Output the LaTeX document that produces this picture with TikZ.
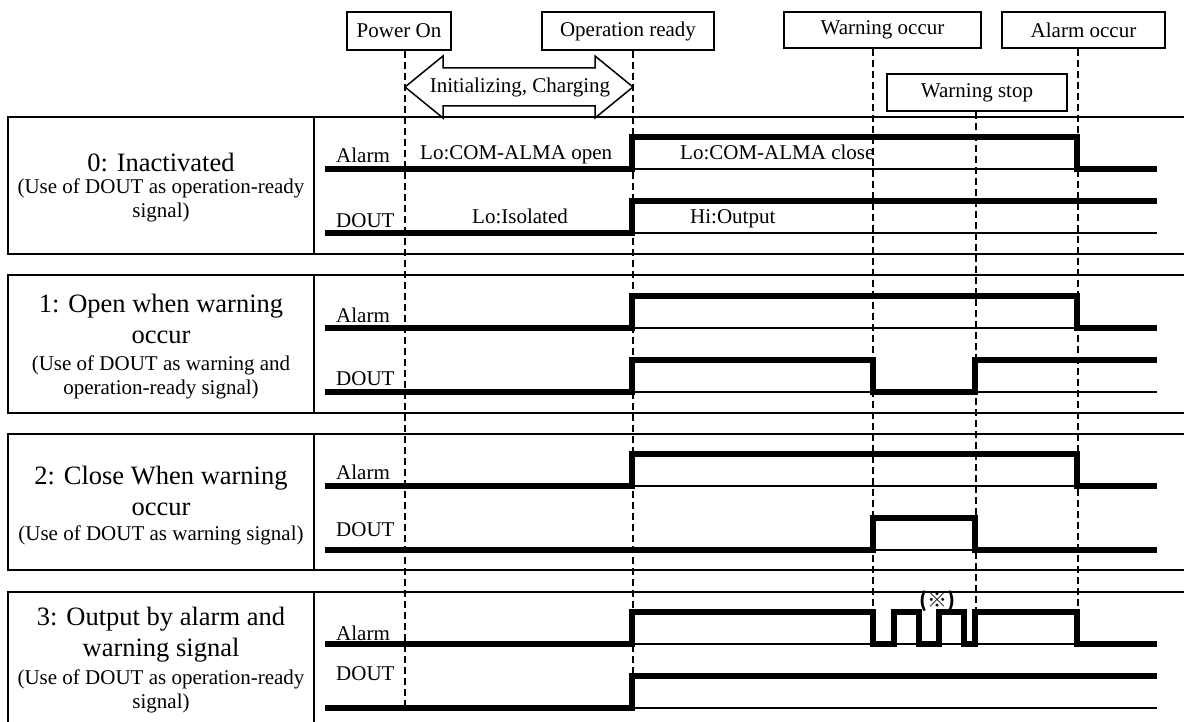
\documentclass[tikz,border=0pt]{standalone}
\usepackage{fontspec}
\setmainfont{Liberation Serif}
\newfontfamily\refmarkfont{Noto Sans CJK JP}
\newcommand\sigfont{\fontsize{21}{25}\selectfont}
\newcommand\modefont{\fontsize{26.5}{31}\selectfont}
\newcommand\remfont{\fontsize{21}{24}\selectfont}
\tikzset{
  frame/.style={line width=1.5pt},
  event/.style={line width=1.4pt, dash pattern=on 7pt off 4pt},
  evbox/.style={draw, line width=1.5pt, inner sep=0pt, font=\sigfont},
  sig/.style={line width=6pt, line join=miter},
  ref/.style={line width=1.6pt},
  lbl/.style={inner sep=0pt, anchor=base west, font=\sigfont},
  modetitle/.style={align=center, font=\modefont, inner sep=0pt},
  modenote/.style={align=center, font=\remfont, inner sep=0pt},
}
\begin{document}
\begin{tikzpicture}[x=1pt, y=-1pt]
  \path[use as bounding box, clip] (0,0) rectangle (1184,722);

  % events on top
  \node[evbox, minimum width=104pt, minimum height=38pt] (pon) at (399,31) {Power On};
  \node[evbox, minimum width=172pt, minimum height=38pt] (rdy) at (628,31) {Operation ready};
  \node[evbox, minimum width=197pt, minimum height=36pt] (warn) at (882.5,30) {Warning occur};
  \node[evbox, minimum width=163pt, minimum height=36pt] (alm) at (1083.5,30) {Alarm occur};
  \node[evbox, minimum width=180pt, minimum height=37pt] (wstop) at (977,92.5) {Warning stop};
  \coordinate (tpon) at (405,0);
  \coordinate (trdy) at (633,0);
  \coordinate (twarn) at (873,0);
  \coordinate (tstop) at (976,0);
  \coordinate (talm) at (1078,0);
  \draw[event] (pon.south -| tpon) -- (tpon |- 0,708);
  \draw[event] (rdy.south -| trdy) -- (trdy |- 0,676);
  \draw[event] (warn.south -| twarn) -- (twarn |- 0,612);
  \draw[event] (wstop.south -| tstop) -- (tstop |- 0,612);
  \draw[event] (alm.south -| talm) -- (talm |- 0,612);

  % initializing arrow
  \draw[frame, line join=miter] (405,87) -- (443,56) -- (443,68) -- (595,68) -- (595,56) -- (633,87)
    -- (595,118) -- (595,106) -- (443,106) -- (443,118) -- cycle;
  \node[font=\sigfont] (init) at (520,87) {Initializing, Charging};

  % 0: inactivated
  \begin{scope}[shift={(0,117)}]
    \draw[frame] (1184,0) -- (8,0) -- (8,137) -- (1184,137) (314,0) -- (314,137);
    \node[modetitle] (m0) at (161,45) {0: Inactivated};
    \node[modenote] (m0note) at (161,83) {(Use of DOUT as operation-ready\\signal)};
    \node[lbl] (a0) at (336,46) {Alarm};
    \node[lbl] (d0) at (336,111) {DOUT};
    \node[lbl] (a0lo) at (420,43) {Lo:COM-ALMA open};
    \node[lbl] (a0hi) at (680,43) {Lo:COM-ALMA close};
    \node[lbl] (d0lo) at (472,107) {Lo:Isolated};
    \node[lbl] (d0hi) at (690,107) {Hi:Output};
    \draw[ref] (632,52) -- (1077,52) (632,116) -- (1157,116);
    \draw[sig] (325,52) -| (632,20) -| (1077,52) -- (1157,52);
    \draw[sig] (325,116) -| (632,84) -- (1157,84);
  \end{scope}

  % 1: open when warning occur
  \begin{scope}[shift={(0,275)}]
    \draw[frame] (1184,0) -- (8,0) -- (8,138) -- (1184,138) (314,0) -- (314,138);
    \node[modetitle] (m1) at (161,44) {1: Open when warning\\occur};
    \node[modenote] (m1note) at (161,102) {(Use of DOUT as warning and\\operation-ready signal)};
    \node[lbl] (a1) at (336,47) {Alarm};
    \node[lbl] (d1) at (336,110) {DOUT};
    \draw[ref] (632,53) -- (1077,53) (632,117) -- (1157,117);
    \draw[sig] (325,53) -| (632,21) -| (1077,53) -- (1157,53);
    \draw[sig] (325,117) -| (632,85) -| (873,117) -| (975,85) -- (1157,85);
  \end{scope}

  % 2: close when warning occur
  \begin{scope}[shift={(0,434)}]
    \draw[frame] (1184,0) -- (8,0) -- (8,136) -- (1184,136) (314,0) -- (314,136);
    \node[modetitle] (m2) at (161,56.5) {2: Close When warning\\occur};
    \node[modenote] (m2note) at (161,101) {(Use of DOUT as warning signal)};
    \node[lbl] (a2) at (336,45) {Alarm};
    \node[lbl] (d2) at (336,102) {DOUT};
    \draw[ref] (632,52) -- (1077,52) (873,116) -- (975,116);
    \draw[sig] (325,52) -| (632,20) -| (1077,52) -- (1157,52);
    \draw[sig] (325,116) -| (873,84) -| (975,116) -- (1157,116);
  \end{scope}

  % 3: output by alarm and warning
  \begin{scope}[shift={(0,592)}]
    \draw[frame] (1184,0) -- (8,0) -- (8,140) (314,0) -- (314,140);
    \node[modetitle] (m3) at (161,43) {3: Output by alarm and\\warning signal};
    \node[modenote] (m3note) at (161,99.5) {(Use of DOUT as operation-ready\\signal)};
    \node[lbl] (a3) at (336,48) {Alarm};
    \node[lbl] (d3) at (336,88) {DOUT};
    \node[font=\refmarkfont\bfseries\fontsize{20}{22}\selectfont, inner sep=0pt] (blink) at (937,9) {(※)};
    \draw[ref] (632,52) -- (1077,52) (632,116) -- (1157,116);
    \draw[sig] (325,52) -| (632,20) -| (873,52) -| (894,20) -| (919,52) -| (939,20) -| (964,52)
      -| (975,20) -| (1077,52) -- (1157,52);
    \draw[sig] (325,116) -| (632,84) -- (1157,84);
  \end{scope}
\end{tikzpicture}
\end{document}
